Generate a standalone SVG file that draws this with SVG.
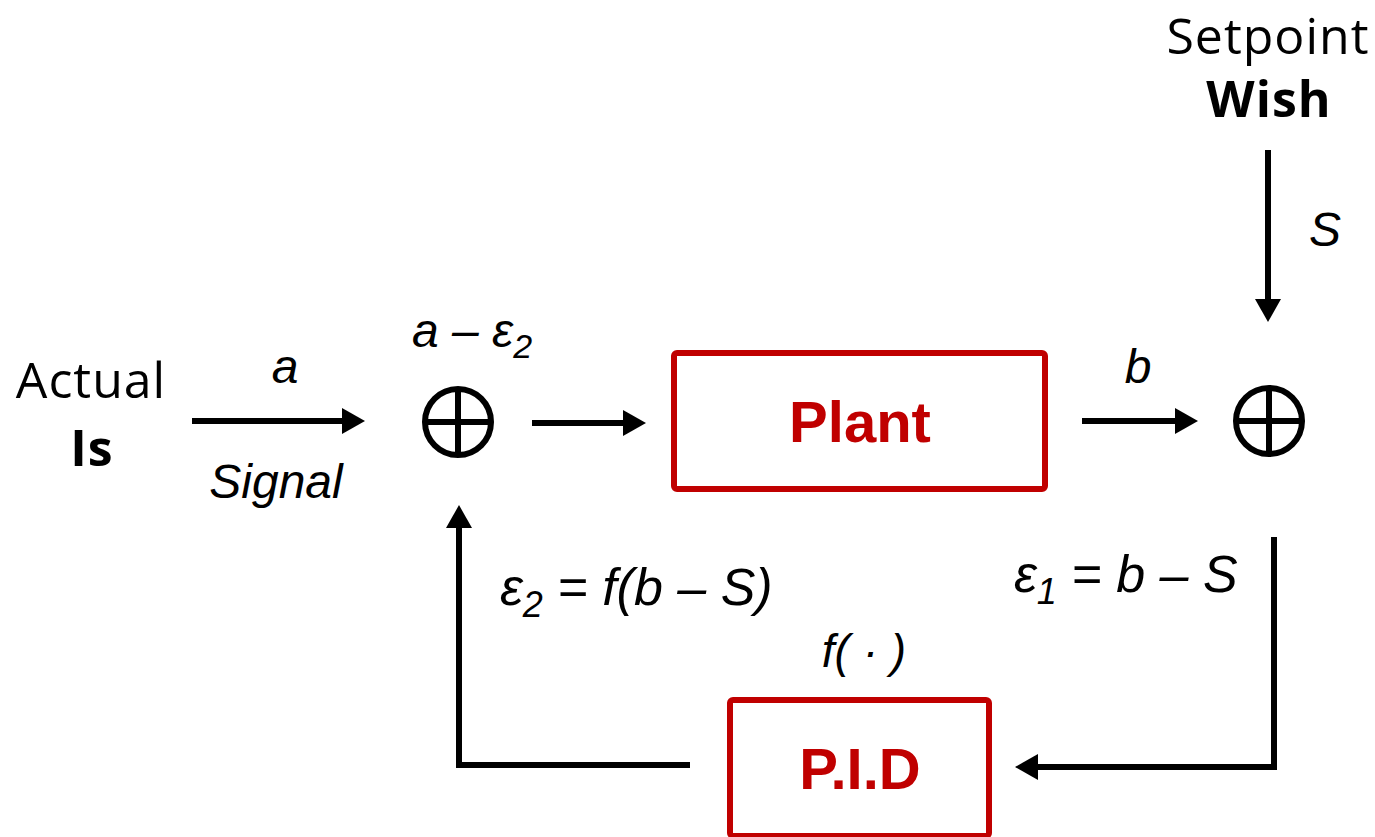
<svg xmlns="http://www.w3.org/2000/svg" width="1375" height="837" viewBox="0 0 1375 837">
<style>
.lbl{font-family:"Open Sans","Liberation Sans",sans-serif;font-size:50px;letter-spacing:1px;fill:#000}
.bold{font-weight:bold}
.math{font-family:"Liberation Sans",Arial,sans-serif;font-style:italic;fill:#000}
.box{fill:none;stroke:#C00000;stroke-width:6}
.boxtxt{font-family:"Liberation Sans",Arial,sans-serif;font-weight:bold;font-size:58px;fill:#C00000}
.wire{fill:none;stroke:#000;stroke-width:6}
.sum{fill:none;stroke:#000;stroke-width:6}
</style>
<defs>
<marker id="ah" markerUnits="userSpaceOnUse" markerWidth="24" markerHeight="26" refX="0" refY="13" orient="auto">
<path d="M0,0 L23,13 L0,26 z" fill="#000"/>
</marker>
</defs>
<rect width="1375" height="837" fill="#fff"/>

<g id="actual">
<text class="lbl" x="91" y="398" text-anchor="middle">Actual</text>
<text class="lbl bold" x="92" y="466" text-anchor="middle">Is</text>
</g>

<g id="setpoint">
<text class="lbl" x="1268" y="54" text-anchor="middle">Setpoint</text>
<text class="lbl bold" x="1269" y="117" text-anchor="middle">Wish</text>
</g>

<g id="sum1">
<circle class="sum" cx="458" cy="422" r="33"/>
<line class="sum" x1="425" y1="422" x2="491" y2="422"/>
<line class="sum" x1="458" y1="389" x2="458" y2="455"/>
</g>

<g id="sum2">
<circle class="sum" cx="1269" cy="421" r="33"/>
<line class="sum" x1="1236" y1="421" x2="1302" y2="421"/>
<line class="sum" x1="1269" y1="388" x2="1269" y2="454"/>
</g>

<g id="plant">
<rect class="box" x="674" y="353" width="371" height="136" rx="3"/>
<text class="boxtxt" x="860" y="442" text-anchor="middle">Plant</text>
</g>

<g id="pid">
<rect class="box" x="730" y="700" width="259" height="136" rx="3"/>
<text class="boxtxt" x="860" y="789" text-anchor="middle">P.I.D</text>
</g>

<g id="connectors">
<line class="wire" x1="192" y1="421" x2="342" y2="421" marker-end="url(#ah)"/>
<line class="wire" x1="532" y1="423" x2="623" y2="423" marker-end="url(#ah)"/>
<line class="wire" x1="1082" y1="421" x2="1175" y2="421" marker-end="url(#ah)"/>
<line class="wire" x1="1268" y1="150" x2="1268" y2="299" marker-end="url(#ah)"/>
<polyline class="wire" points="1274,537 1274,767 1038,767" marker-end="url(#ah)"/>
<polyline class="wire" points="690,765 459,765 459,528" marker-end="url(#ah)"/>
</g>

<g id="labels">
<text class="math" font-size="48" x="285" y="383" text-anchor="middle">a</text>
<text class="math" font-size="48" x="276" y="498" text-anchor="middle">Signal</text>
<text class="math" font-size="48" x="412" y="347">a – ε<tspan font-size="34" dy="11">2</tspan></text>
<text class="math" font-size="48" x="1138" y="383" text-anchor="middle">b</text>
<text class="math" font-size="48" x="1325" y="246" text-anchor="middle">S</text>
<text class="math" font-size="52" x="500" y="605">ε<tspan font-size="36" dy="12">2</tspan><tspan dy="-12"> = f(b – S)</tspan></text>
<text class="math" font-size="52" x="1014" y="592">ε<tspan font-size="36" dy="12">1</tspan><tspan dy="-12"> = b – S</tspan></text>
<text class="math" font-size="46" x="864" y="667" text-anchor="middle">f( · )</text>
</g>
</svg>
